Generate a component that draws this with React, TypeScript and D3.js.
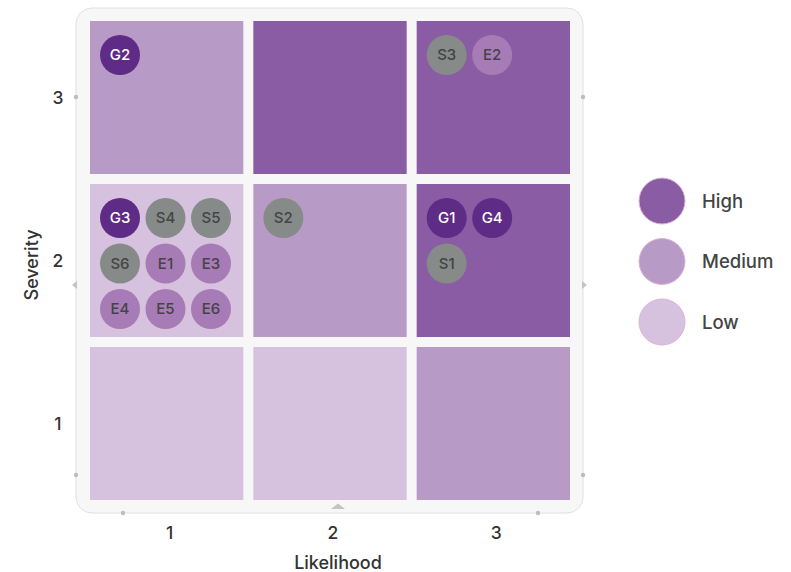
import React from "react";
import * as d3 from "d3";

const likelihoods = [1, 2, 3];
const severities = [3, 2, 1];

// risk level of each cell
const cellLevels: { severity: number; likelihood: number; level: string }[] = [
  { severity: 3, likelihood: 1, level: "Medium" },
  { severity: 3, likelihood: 2, level: "High" },
  { severity: 3, likelihood: 3, level: "High" },
  { severity: 2, likelihood: 1, level: "Low" },
  { severity: 2, likelihood: 2, level: "Medium" },
  { severity: 2, likelihood: 3, level: "High" },
  { severity: 1, likelihood: 1, level: "Low" },
  { severity: 1, likelihood: 2, level: "Low" },
  { severity: 1, likelihood: 3, level: "Medium" },
];

const risks: { id: string; likelihood: number; severity: number }[] = [
  { id: "G2", likelihood: 1, severity: 3 },
  { id: "S3", likelihood: 3, severity: 3 },
  { id: "E2", likelihood: 3, severity: 3 },
  { id: "G3", likelihood: 1, severity: 2 },
  { id: "S4", likelihood: 1, severity: 2 },
  { id: "S5", likelihood: 1, severity: 2 },
  { id: "S6", likelihood: 1, severity: 2 },
  { id: "E1", likelihood: 1, severity: 2 },
  { id: "E3", likelihood: 1, severity: 2 },
  { id: "E4", likelihood: 1, severity: 2 },
  { id: "E5", likelihood: 1, severity: 2 },
  { id: "E6", likelihood: 1, severity: 2 },
  { id: "S2", likelihood: 2, severity: 2 },
  { id: "G1", likelihood: 3, severity: 2 },
  { id: "G4", likelihood: 3, severity: 2 },
  { id: "S1", likelihood: 3, severity: 2 },
];

const levels = ["High", "Medium", "Low"];
const levelColors = ["#8a5ca3", "#b89ac7", "#d6c1de"];

const riskFill: Record<string, string> = { G: "#5e2b86", S: "#868a89", E: "#a77bb6" };
const riskText: Record<string, string> = { G: "#ffffff", S: "#444444", E: "#444444" };

const font = "Inter, 'Liberation Sans', Arial, sans-serif";

export default function App() {
  const width = 791;
  const height = 572;

  const x = d3.scaleBand<number>().domain(likelihoods).range([90, 570]).paddingInner(10 / 163);
  const y = d3.scaleBand<number>().domain(severities).range([21, 500]).paddingInner(10 / 163);
  const color = d3.scaleOrdinal<string, string>().domain(levels).range(levelColors);

  const r = 20;
  const step = 45.5;

  // group per cell, lay out in a square-ish grid (cols = ceil(sqrt(n)))
  const groups = d3.group(risks, (d) => `${d.likelihood}-${d.severity}`);
  const placed = risks.map((d) => {
    const g = groups.get(`${d.likelihood}-${d.severity}`)!;
    const i = g.indexOf(d);
    const cols = Math.ceil(Math.sqrt(g.length));
    return {
      ...d,
      cx: x(d.likelihood)! + 30 + (i % cols) * step,
      cy: y(d.severity)! + 34 + Math.floor(i / cols) * step,
    };
  });

  const frame = { x0: 76, y0: 8, x1: 583, y1: 513 };

  return (
    <svg
      width={width}
      height={height}
      style={{ position: "absolute", left: 0, top: 0, fontFamily: font, fontWeight: 500 }}
    >
      {/* plot frame */}
      <rect
        x={frame.x0}
        y={frame.y0}
        width={frame.x1 - frame.x0}
        height={frame.y1 - frame.y0}
        rx={16}
        fill="#f7f7f7"
        stroke="#e0e0e0"
        strokeWidth={1}
      />
      {[
        [frame.x0, 97],
        [frame.x1, 97],
        [frame.x0, 475],
        [frame.x1, 475],
        [123, frame.y1],
        [538, frame.y1],
      ].map(([cx, cy], i) => (
        <circle key={i} cx={cx} cy={cy} r={2.2} fill="#bdbdbd" />
      ))}
      <path d={`M${frame.x0 - 4},285 L${frame.x0 + 1},281 L${frame.x0 + 1},289 Z`} fill="#c4c4c4" />
      <path d={`M${frame.x1 + 4},285 L${frame.x1 - 1},281 L${frame.x1 - 1},289 Z`} fill="#c4c4c4" />
      <path d={`M338,503.5 L331,509 L345,509 Z`} fill="#c4c4c4" />

      {/* cells */}
      {cellLevels.map((c) => (
        <rect
          key={`${c.severity}-${c.likelihood}`}
          x={x(c.likelihood)}
          y={y(c.severity)}
          width={x.bandwidth()}
          height={y.bandwidth()}
          fill={color(c.level)}
        />
      ))}

      {/* risks */}
      {placed.map((d) => (
        <g key={d.id}>
          <circle cx={d.cx} cy={d.cy} r={r} fill={riskFill[d.id[0]]} />
          <text
            x={d.cx}
            y={d.cy}
            dy="0.36em"
            textAnchor="middle"
            fontSize={15}
            fill={riskText[d.id[0]]}
          >
            {d.id}
          </text>
        </g>
      ))}

      {/* axes */}
      {likelihoods.map((l) => (
        <text
          key={l}
          x={x(l)! + x.bandwidth() / 2 + 3}
          y={533}
          dy="0.36em"
          textAnchor="middle"
          fontSize={17.5}
          fill="#333"
        >
          {l}
        </text>
      ))}
      {severities.map((s) => (
        <text
          key={s}
          x={58}
          y={y(s)! + y.bandwidth() / 2}
          dy="0.36em"
          textAnchor="middle"
          fontSize={17.5}
          fill="#333"
        >
          {s}
        </text>
      ))}
      <text x={338} y={563} dy="0.36em" textAnchor="middle" fontSize={18} fill="#333">
        Likelihood
      </text>
      <text
        transform="translate(32,265) rotate(-90)"
        dy="0.36em"
        textAnchor="middle"
        fontSize={18}
        fill="#333"
      >
        Severity
      </text>

      {/* legend */}
      {levels.map((lv, i) => (
        <g key={lv} transform={`translate(662,${201 + i * 60.5})`}>
          <circle r={23} fill={color(lv)} stroke="#dcb3d6" strokeWidth={1} />
          <text x={40} dy="0.36em" fontSize={18.5} fill="#444">
            {lv}
          </text>
        </g>
      ))}
    </svg>
  );
}
